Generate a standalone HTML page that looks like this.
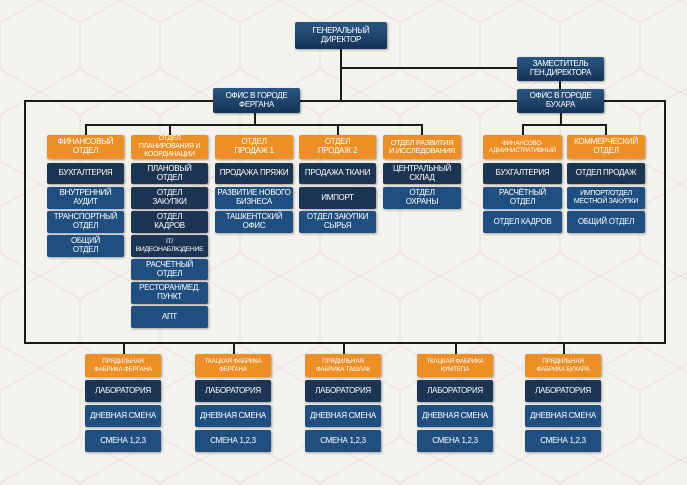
<!DOCTYPE html>
<html><head><meta charset="utf-8"><style>
*{margin:0;padding:0;box-sizing:border-box}
body{width:687px;height:485px;overflow:hidden;background:#f4f2ec;position:relative;font-family:"Liberation Sans",sans-serif}
.b{position:absolute;display:flex;align-items:center;justify-content:center;text-align:center;color:#fff;font-size:8px;letter-spacing:-0.3px;white-space:nowrap;line-height:1.12;border-radius:2px;box-shadow:1px 1px 2px rgba(0,0,0,.35);padding:0}
.t{background:linear-gradient(#2a5682,#143457)}
.o{background:#ee8f25}
.d{background:#1b3552}
.u{background:#1f4f80}
.s{font-size:6.3px;letter-spacing:-0.2px}
.l{position:absolute;background:#1a1a1a}
</style></head><body>
<svg style="position:absolute;left:0;top:0" width="687" height="485">
<defs><pattern id="h" width="80" height="92" patternUnits="userSpaceOnUse"><path d="M40 0 L80 23 L80 69 L40 92 L0 69 L0 23 Z M40 0 V-10 M40 92 V102" fill="none" stroke="#e6e2d8" stroke-width="1"/></pattern></defs>
<rect width="687" height="485" fill="url(#h)"/>
</svg>
<div class="l" style="left:340px;top:48px;width:2px;height:54px"></div>
<div class="l" style="left:340px;top:67px;width:178px;height:2px"></div>
<div class="l" style="left:559px;top:80px;width:2px;height:10px"></div>
<div class="l" style="left:24px;top:100px;width:642px;height:2px"></div>
<div class="l" style="left:24px;top:100px;width:2px;height:244px"></div>
<div class="l" style="left:664px;top:100px;width:2px;height:244px"></div>
<div class="l" style="left:24px;top:342px;width:642px;height:2px"></div>
<div class="l" style="left:254px;top:112px;width:2px;height:14px"></div>
<div class="l" style="left:85px;top:124px;width:337px;height:2px"></div>
<div class="l" style="left:85px;top:124px;width:2px;height:11px"></div>
<div class="l" style="left:169px;top:124px;width:2px;height:11px"></div>
<div class="l" style="left:337px;top:124px;width:2px;height:11px"></div>
<div class="l" style="left:421px;top:124px;width:2px;height:11px"></div>
<div class="l" style="left:560px;top:112px;width:2px;height:14px"></div>
<div class="l" style="left:522px;top:124px;width:84px;height:2px"></div>
<div class="l" style="left:522px;top:124px;width:2px;height:11px"></div>
<div class="l" style="left:605px;top:124px;width:2px;height:11px"></div>
<div class="l" style="left:123px;top:342px;width:2px;height:12px"></div>
<div class="l" style="left:233px;top:342px;width:2px;height:12px"></div>
<div class="l" style="left:343px;top:342px;width:2px;height:12px"></div>
<div class="l" style="left:455px;top:342px;width:2px;height:12px"></div>
<div class="l" style="left:563px;top:342px;width:2px;height:12px"></div>

<div class="b t" style="left:295px;top:22px;width:92px;height:27px">ГЕНЕРАЛЬНЫЙ<br>ДИРЕКТОР</div>
<div class="b t" style="left:517px;top:57px;width:87px;height:24px">ЗАМЕСТИТЕЛЬ<br>ГЕН.ДИРЕКТОРА</div>
<div class="b t" style="left:213px;top:88px;width:87px;height:25px">ОФИС В ГОРОДЕ<br>ФЕРГАНА</div>
<div class="b t" style="left:517px;top:89px;width:87px;height:24px">ОФИС В ГОРОДЕ<br>БУХАРА</div>

<div class="b o" style="left:47px;top:135px;width:77px;height:24px">ФИНАНСОВЫЙ<br>ОТДЕЛ</div>
<div class="b o" style="left:131px;top:135px;width:77px;height:24px;font-size:7px">ОТДЕЛ<br>ПЛАНИРОВАНИЯ И<br>КООРДИНАЦИИ</div>
<div class="b o" style="left:215px;top:135px;width:78px;height:24px">ОТДЕЛ<br>ПРОДАЖ 1</div>
<div class="b o" style="left:299px;top:135px;width:77px;height:24px">ОТДЕЛ<br>ПРОДАЖ 2</div>
<div class="b o" style="left:383px;top:135px;width:78px;height:24px;font-size:7.5px">ОТДЕЛ РАЗВИТИЯ<br>И ИССЛЕДОВАНИЯ</div>
<div class="b o s" style="left:483px;top:135px;width:79px;height:24px">ФИНАНСОВО-<br>АДМИНИСТРАТИВНЫЙ</div>
<div class="b o" style="left:567px;top:135px;width:78px;height:24px">КОММЕРЧЕСКИЙ<br>ОТДЕЛ</div>

<div class="b d" style="left:47px;top:163px;width:77px;height:21px">БУХГАЛТЕРИЯ</div>
<div class="b u" style="left:47px;top:187px;width:77px;height:22px">ВНУТРЕННИЙ<br>АУДИТ</div>
<div class="b u" style="left:47px;top:211px;width:77px;height:22px">ТРАНСПОРТНЫЙ<br>ОТДЕЛ</div>
<div class="b u" style="left:47px;top:235px;width:77px;height:22px">ОБЩИЙ<br>ОТДЕЛ</div>

<div class="b d" style="left:131px;top:163px;width:77px;height:21px">ПЛАНОВЫЙ<br>ОТДЕЛ</div>
<div class="b d" style="left:131px;top:187px;width:77px;height:22px">ОТДЕЛ<br>ЗАКУПКИ</div>
<div class="b d" style="left:131px;top:211px;width:77px;height:22px">ОТДЕЛ<br>КАДРОВ</div>
<div class="b d" style="left:131px;top:235px;width:77px;height:22px;font-size:6.8px">IT/<br>ВИДЕОНАБЛЮДЕНИЕ</div>
<div class="b u" style="left:131px;top:259px;width:77px;height:21px">РАСЧЁТНЫЙ<br>ОТДЕЛ</div>
<div class="b u" style="left:131px;top:282px;width:77px;height:22px">РЕСТОРАН/МЕД.<br>ПУНКТ</div>
<div class="b u" style="left:131px;top:306px;width:77px;height:22px">АПТ</div>

<div class="b d" style="left:215px;top:163px;width:78px;height:21px">ПРОДАЖА ПРЯЖИ</div>
<div class="b u" style="left:215px;top:187px;width:78px;height:22px">РАЗВИТИЕ НОВОГО<br>БИЗНЕСА</div>
<div class="b u" style="left:215px;top:211px;width:78px;height:22px">ТАШКЕНТСКИЙ<br>ОФИС</div>

<div class="b d" style="left:299px;top:163px;width:77px;height:21px">ПРОДАЖА ТКАНИ</div>
<div class="b d" style="left:299px;top:187px;width:77px;height:22px">ИМПОРТ</div>
<div class="b u" style="left:299px;top:211px;width:77px;height:22px">ОТДЕЛ ЗАКУПКИ<br>СЫРЬЯ</div>

<div class="b d" style="left:383px;top:163px;width:78px;height:21px">ЦЕНТРАЛЬНЫЙ<br>СКЛАД</div>
<div class="b u" style="left:383px;top:187px;width:78px;height:22px">ОТДЕЛ<br>ОХРАНЫ</div>

<div class="b d" style="left:483px;top:163px;width:79px;height:21px">БУХГАЛТЕРИЯ</div>
<div class="b u" style="left:483px;top:187px;width:79px;height:22px">РАСЧЁТНЫЙ<br>ОТДЕЛ</div>
<div class="b u" style="left:483px;top:211px;width:79px;height:22px">ОТДЕЛ КАДРОВ</div>
<div class="b d" style="left:567px;top:163px;width:78px;height:21px">ОТДЕЛ ПРОДАЖ</div>
<div class="b u" style="left:567px;top:187px;width:78px;height:22px;font-size:7px">ИМПОРТ/ОТДЕЛ<br>МЕСТНОЙ ЗАКУПКИ</div>
<div class="b u" style="left:567px;top:211px;width:78px;height:22px">ОБЩИЙ ОТДЕЛ</div>

<div class="b o s" style="left:85px;top:354px;width:76px;height:23px">ПРЯДИЛЬНАЯ<br>ФАБРИКА ФЕРГАНА</div>
<div class="b d" style="left:85px;top:380px;width:76px;height:22px">ЛАБОРАТОРИЯ</div>
<div class="b u" style="left:85px;top:405px;width:76px;height:22px">ДНЕВНАЯ СМЕНА</div>
<div class="b u" style="left:85px;top:430px;width:76px;height:22px">СМЕНА 1,2,3</div>

<div class="b o s" style="left:195px;top:354px;width:76px;height:23px">ТКАЦКАЯ ФАБРИКА<br>ФЕРГАНА</div>
<div class="b d" style="left:195px;top:380px;width:76px;height:22px">ЛАБОРАТОРИЯ</div>
<div class="b u" style="left:195px;top:405px;width:76px;height:22px">ДНЕВНАЯ СМЕНА</div>
<div class="b u" style="left:195px;top:430px;width:76px;height:22px">СМЕНА 1,2,3</div>

<div class="b o s" style="left:305px;top:354px;width:76px;height:23px">ПРЯДИЛЬНАЯ<br>ФАБРИКА ТАШЛАК</div>
<div class="b d" style="left:305px;top:380px;width:76px;height:22px">ЛАБОРАТОРИЯ</div>
<div class="b u" style="left:305px;top:405px;width:76px;height:22px">ДНЕВНАЯ СМЕНА</div>
<div class="b u" style="left:305px;top:430px;width:76px;height:22px">СМЕНА 1,2,3</div>

<div class="b o s" style="left:417px;top:354px;width:76px;height:23px">ТКАЦКАЯ ФАБРИКА<br>КУМТЕПА</div>
<div class="b d" style="left:417px;top:380px;width:76px;height:22px">ЛАБОРАТОРИЯ</div>
<div class="b u" style="left:417px;top:405px;width:76px;height:22px">ДНЕВНАЯ СМЕНА</div>
<div class="b u" style="left:417px;top:430px;width:76px;height:22px">СМЕНА 1,2,3</div>

<div class="b o s" style="left:525px;top:354px;width:76px;height:23px">ПРЯДИЛЬНАЯ<br>ФАБРИКА БУХАРА</div>
<div class="b d" style="left:525px;top:380px;width:76px;height:22px">ЛАБОРАТОРИЯ</div>
<div class="b u" style="left:525px;top:405px;width:76px;height:22px">ДНЕВНАЯ СМЕНА</div>
<div class="b u" style="left:525px;top:430px;width:76px;height:22px">СМЕНА 1,2,3</div>
</body></html>
